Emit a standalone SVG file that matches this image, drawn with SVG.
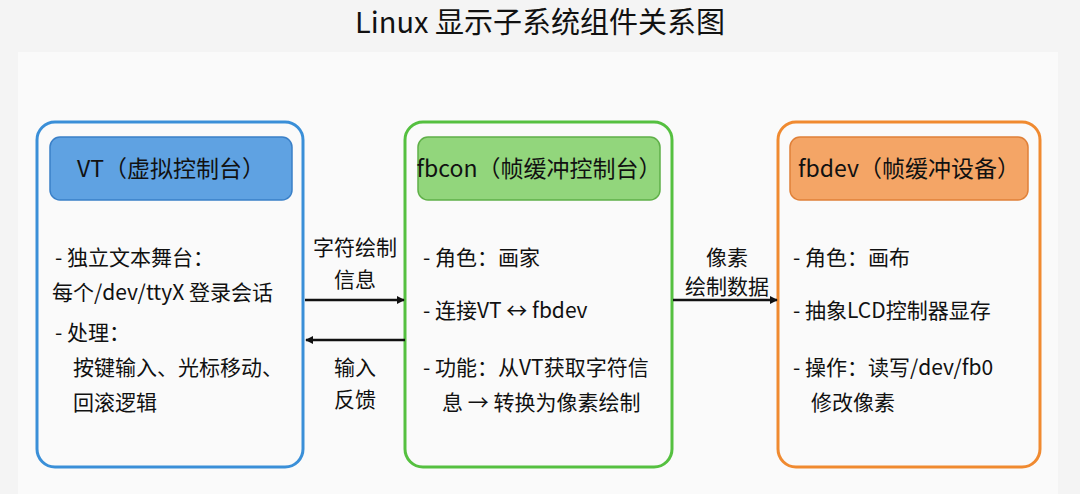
<svg xmlns="http://www.w3.org/2000/svg" width="1080" height="494" viewBox="0 0 1080 494">
<defs>
<marker id="ah" viewBox="0 0 10 10" refX="9" refY="5" markerWidth="8" markerHeight="8" orient="auto" markerUnits="userSpaceOnUse"><path d="M0,0 L10,5 L0,10 z" fill="#111"/></marker>
<style>
text{font-family:"Noto Sans CJK SC","Noto Sans",sans-serif;fill:#111}
.t{font-size:21px}
.h{font-size:23px;text-anchor:middle}
.l{font-size:21px;text-anchor:middle}
.box{fill:#fafafa;stroke-width:3}
.c{stroke:#111;stroke-width:2.5;fill:none;marker-end:url(#ah)}
</style>
</defs>
<rect width="1080" height="494" fill="#f4f4f4"/>
<rect x="18" y="52" width="1040" height="442" fill="#fafafa"/>
<text x="540" y="33" font-size="29" text-anchor="middle">Linux 显示子系统组件关系图</text>
<g id="vt">
<rect class="box" x="37" y="122" width="266" height="345" rx="18" stroke="#3a8fd8"/>
<rect x="50" y="137" width="242" height="63" rx="10" fill="#5fa2e2" stroke="#3a80c8" stroke-width="1.5"/>
<text class="h" x="171" y="177">VT（虚拟控制台）</text>
<text class="t" x="55" y="265">- 独立文本舞台：</text>
<text class="t" x="52" y="300">每个/dev/ttyX 登录会话</text>
<text class="t" x="55" y="340">- 处理：</text>
<text class="t" x="73" y="375">按键输入、光标移动、</text>
<text class="t" x="73" y="410">回滚逻辑</text>
</g>
<g id="fbcon">
<rect class="box" x="405" y="122" width="267" height="345" rx="18" stroke="#55c040"/>
<rect x="418" y="137" width="242" height="63" rx="10" fill="#92d67c" stroke="#5fb048" stroke-width="1.5"/>
<text class="h" x="539" y="177">fbcon（帧缓冲控制台）</text>
<text class="t" x="423" y="265">- 角色：画家</text>
<text class="t" x="423" y="318">- 连接VT ↔ fbdev</text>
<text class="t" x="423" y="375">- 功能：从VT获取字符信</text>
<text class="t" x="442" y="410">息 → 转换为像素绘制</text>
</g>
<g id="fbdev">
<rect class="box" x="778" y="122" width="262" height="345" rx="18" stroke="#f08a30"/>
<rect x="790" y="137" width="238" height="63" rx="10" fill="#f4a566" stroke="#e08038" stroke-width="1.5"/>
<text class="h" x="909" y="177">fbdev（帧缓冲设备）</text>
<text class="t" x="793" y="265">- 角色：画布</text>
<text class="t" x="793" y="318">- 抽象LCD控制器显存</text>
<text class="t" x="793" y="375">- 操作：读写/dev/fb0</text>
<text class="t" x="811" y="410">修改像素</text>
</g>
<g id="connectors">
<line class="c" x1="305" y1="300" x2="404" y2="300"/>
<text class="l" x="355" y="255">字符绘制</text>
<text class="l" x="355" y="287">信息</text>
<line class="c" x1="405" y1="340" x2="306" y2="340"/>
<text class="l" x="355" y="375">输入</text>
<text class="l" x="355" y="407">反馈</text>
<line class="c" x1="673" y1="300" x2="777" y2="300"/>
<text class="l" x="727" y="265">像素</text>
<text class="l" x="727" y="294">绘制数据</text>
</g>
</svg>
